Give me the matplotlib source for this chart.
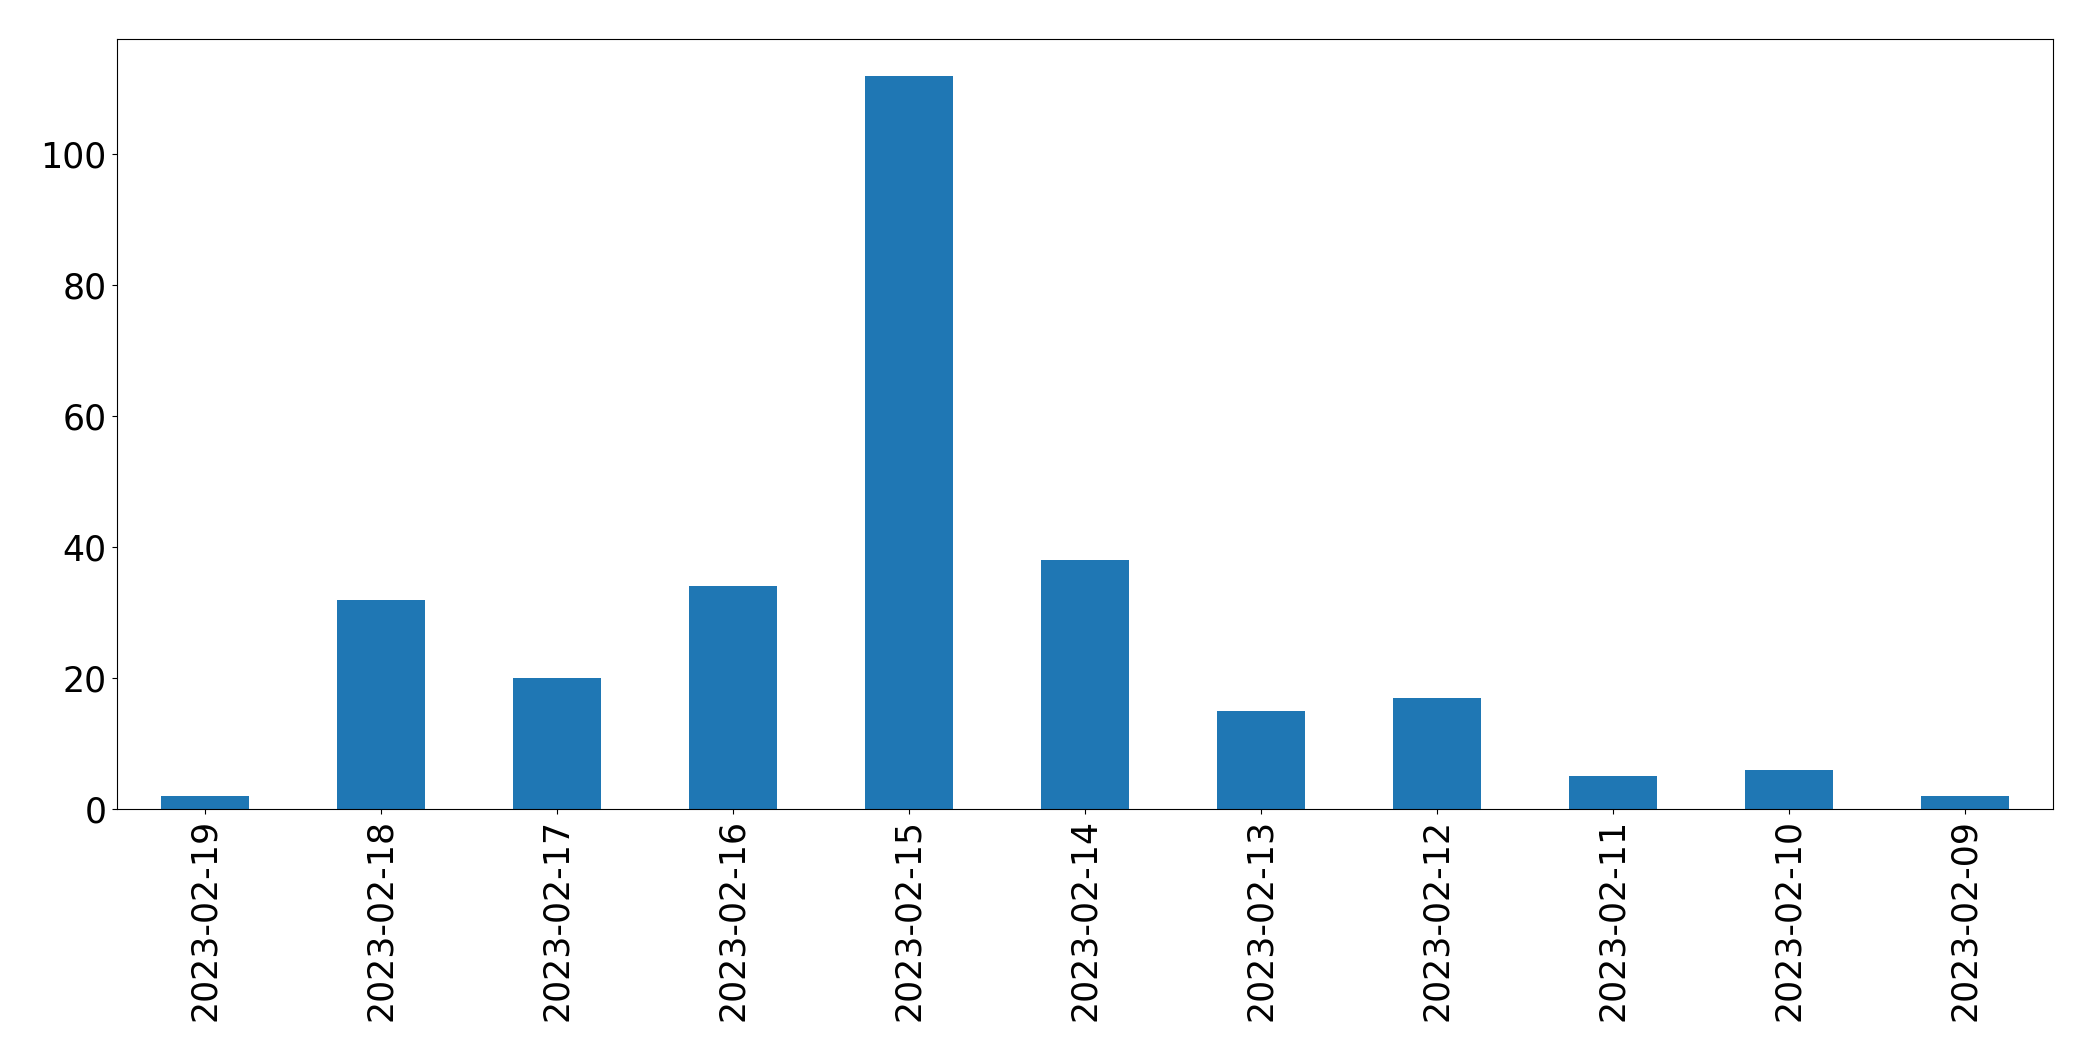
import matplotlib.pyplot as plt
import pandas as pd

plt.switch_backend('agg')

# Daily counts, newest first (as in the source chart)
dates = ['2023-02-19', '2023-02-18', '2023-02-17', '2023-02-16', '2023-02-15',
         '2023-02-14', '2023-02-13', '2023-02-12', '2023-02-11', '2023-02-10',
         '2023-02-09']
counts = [2, 32, 20, 34, 112, 38, 15, 17, 5, 6, 2]

series = pd.Series(counts, index=dates)

fig, ax = plt.subplots(figsize=(20.93, 10.61), dpi=100)
series.plot(kind='bar', ax=ax, color='#1f77b4')
ax.tick_params(axis='both', labelsize=25)
fig.subplots_adjust(left=0.0557, right=0.981, top=0.963, bottom=0.2375)

fig.savefig('out.png', dpi=100)
plt.close(fig)
